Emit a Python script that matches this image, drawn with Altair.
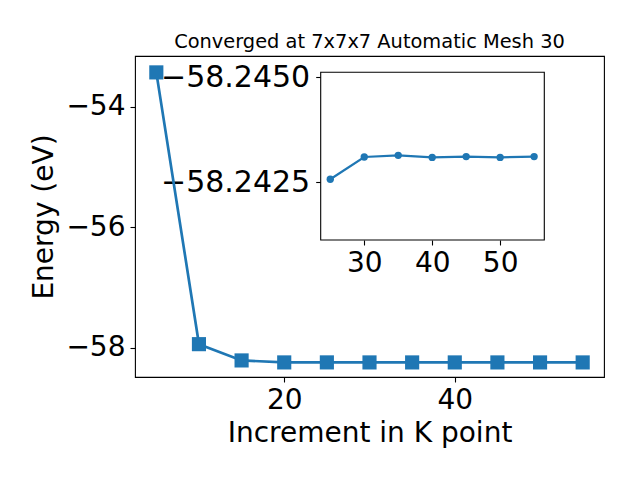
import altair as alt
import pandas as pd

k_main = [5, 10, 15, 20, 25, 30, 35, 40, 45, 50, 55]
e_main = [-53.43, -57.94, -58.21, -58.243, -58.2426, -58.2431, -58.2431,
          -58.2431, -58.2431, -58.2431, -58.2431]

k_inset = [25, 30, 35, 40, 45, 50, 55]
e_inset = [-58.24257, -58.24310, -58.24314, -58.24309, -58.24311, -58.24309, -58.24311]

main_x_ticks = [20, 40]
main_y_ticks = [-54, -56, -58]
inset_x_ticks = [30, 40, 50]
inset_y_ticks = [-58.2450, -58.2425]

title_text = "Converged at 7x7x7 Automatic Mesh 30"
x_title = "Increment in K point"
y_title = "Energy (eV)"

BLUE = "#1f77b4"
FONT = "DejaVu Sans"
W, H = 469, 321

df_main = pd.DataFrame({"k": k_main, "e": e_main})
df_inset = pd.DataFrame({"k": k_inset, "e": e_inset})

x_dom = [2.5, 57.5]
y_dom = [-58.485, -53.158]
ix_dom = [23.59, 56.5]
iy_dom = [-58.24512, -58.24112]
ix_rng = [185.7, 409.3]
iy_rng = [16.3, 184]

df_box = pd.DataFrame({"k": [ix_dom[0]], "k2": [ix_dom[1]],
                       "e": [iy_dom[0]], "e2": [iy_dom[1]]})

axis_common = dict(grid=False, domain=False, tickColor="black", tickWidth=1.1,
                   tickSize=5, labelColor="black", labelFont=FONT,
                   titleFont=FONT, titleFontSize=28, titleFontWeight="normal",
                   titleColor="black")

mx = alt.X("k:Q", scale=alt.Scale(domain=x_dom, nice=False, zero=False),
           axis=alt.Axis(values=main_x_ticks, format="d", title=x_title, orient="bottom",
                         labelFontSize=28, labelPadding=4,
                         titleBaseline="alphabetic", titleY=64, titleX=W / 2,
                         **axis_common))
my = alt.Y("e:Q", scale=alt.Scale(domain=y_dom, nice=False, zero=False),
           axis=alt.Axis(values=main_y_ticks, format="d", title=y_title, orient="left",
                         labelFontSize=28, labelPadding=5,
                         titleBaseline="alphabetic", titleX=-83, titleY=H / 2,
                         titleAngle=270, titleAlign="center", **axis_common))

main_line = alt.Chart(df_main).mark_line(color=BLUE, strokeWidth=2.7).encode(x=mx, y=my)
main_pts = alt.Chart(df_main).mark_point(shape="square", filled=True, size=200,
                                         color=BLUE, opacity=1).encode(x=mx, y=my)
main_layer = alt.layer(main_line, main_pts)

ix_scale = alt.Scale(domain=ix_dom, range=ix_rng, nice=False, zero=False)
iy_scale = alt.Scale(domain=iy_dom, range=iy_rng, nice=False, zero=False)

ix_axis = alt.Axis(values=inset_x_ticks, format="d", title=None, orient="bottom",
                   labelFontSize=28, labelPadding=4,
                   offset=-(H - iy_rng[1]), **axis_common)
iy_axis = alt.Axis(values=inset_y_ticks, format=".4f", title=None, orient="left",
                   labelFontSize=30, labelPadding=6,
                   offset=-ix_rng[0], **axis_common)
ix = alt.X("k:Q", scale=ix_scale, axis=ix_axis)
iy = alt.Y("e:Q", scale=iy_scale, axis=iy_axis)

box = alt.Chart(df_box).mark_rect(fill="white", stroke="black", strokeWidth=1.1).encode(
    x=ix, x2="k2:Q", y=iy, y2="e2:Q",
)
inset_line = alt.Chart(df_inset).mark_line(color=BLUE, strokeWidth=2.2).encode(x=ix, y=iy)
inset_pts = alt.Chart(df_inset).mark_circle(size=54, color=BLUE, opacity=1).encode(x=ix, y=iy)
inset_layer = alt.layer(box, inset_line, inset_pts)

chart = alt.layer(main_layer, inset_layer).resolve_scale(
    x="independent", y="independent"
).resolve_axis(x="independent", y="independent").properties(
    width=W, height=H,
    title=alt.Title(title_text, font=FONT, fontSize=19.4, fontWeight="normal",
                    color="black", anchor="middle", offset=4),
    autosize=alt.AutoSizeParams(type="none"),
    padding={"left": 127, "top": 48, "right": 28, "bottom": 95},
).configure(background="white").configure_view(stroke="black", strokeWidth=1.1)

chart.save("out.html", embed_options={"renderer": "svg", "actions": False})
